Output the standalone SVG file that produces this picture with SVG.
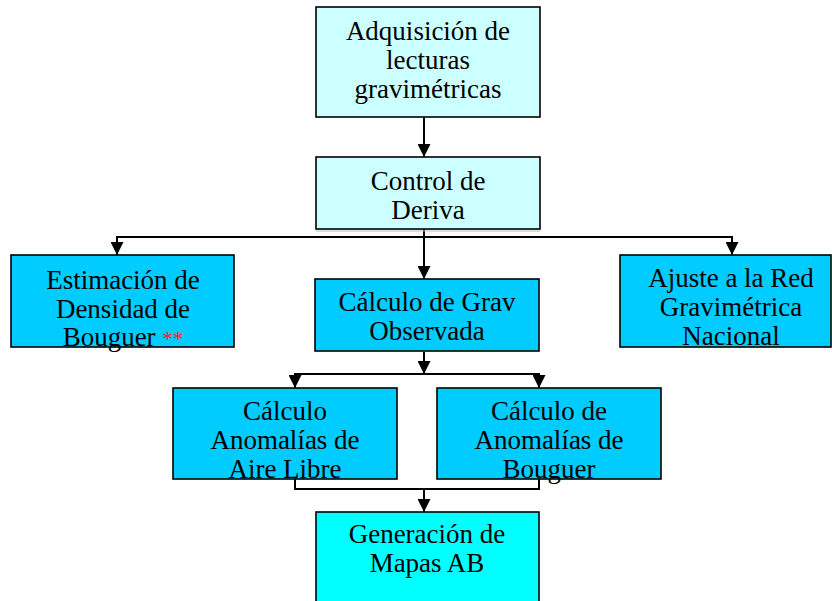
<svg xmlns="http://www.w3.org/2000/svg" width="832" height="601" viewBox="0 0 832 601">
<style>
.box{stroke:#000;stroke-width:1.6}
.lc{fill:#CCFFFF}
.bl{fill:#00CCFF}
.cy{fill:#00FFFF}
text{font-family:"Liberation Serif","Times New Roman",serif;font-size:27px;fill:#000;text-anchor:middle}
.c{fill:none;stroke:#000;stroke-width:2}
</style>
<defs>
<marker id="ah" markerWidth="13" markerHeight="13" viewBox="0 0 13 13" refX="13" refY="6.5" orient="auto" markerUnits="userSpaceOnUse">
<path d="M0,0 L13,6.5 L0,13 Z" fill="#000"/>
</marker>
</defs>
<rect width="832" height="601" fill="#fff"/>
<g id="connectors">
<line class="c" x1="424" y1="117" x2="424" y2="157" marker-end="url(#ah)"/>
<line class="c" x1="424" y1="229" x2="424" y2="279" marker-end="url(#ah)"/>
<line x1="316" y1="231" x2="540" y2="231" stroke="#bbb" stroke-width="1"/>
<polyline class="c" points="117,255 117,237 732,237 732,255"/>
<line class="c" x1="117" y1="237" x2="117" y2="255" marker-end="url(#ah)"/>
<line class="c" x1="732" y1="237" x2="732" y2="255" marker-end="url(#ah)"/>
<line class="c" x1="424" y1="352" x2="424" y2="374" marker-end="url(#ah)"/>
<polyline class="c" points="295,388 295,374 539,374 539,388"/>
<line class="c" x1="295" y1="374" x2="295" y2="388" marker-end="url(#ah)"/>
<line class="c" x1="539" y1="374" x2="539" y2="388" marker-end="url(#ah)"/>
<polyline class="c" points="295,479 295,489 539,489 539,479"/>
<line class="c" x1="424" y1="489" x2="424" y2="512" marker-end="url(#ah)"/>
</g>
<g id="adquisicion">
<rect class="box lc" x="316" y="7" width="224" height="110"/>
<text x="428" y="40">Adquisición de</text>
<text x="428" y="69">lecturas</text>
<text x="428" y="98">gravimétricas</text>
</g>
<g id="control">
<rect class="box lc" x="316" y="157" width="224" height="72"/>
<text x="428" y="190">Control de</text>
<text x="428" y="219">Deriva</text>
</g>
<g id="estimacion">
<rect class="box bl" x="11" y="255" width="223" height="92"/>
<text x="123" y="289">Estimación de</text>
<text x="123" y="318">Densidad de</text>
<text x="123" y="346">Bouguer <tspan fill="#FF2020" font-size="21">**</tspan></text>
</g>
<g id="grav">
<rect class="box bl" x="315" y="279" width="224" height="72"/>
<text x="427" y="311">Cálculo de Grav</text>
<text x="427" y="340">Observada</text>
</g>
<g id="ajuste">
<rect class="box bl" x="620" y="255" width="211" height="92"/>
<text x="731" y="287">Ajuste a la Red</text>
<text x="731" y="316">Gravimétrica</text>
<text x="731" y="345">Nacional</text>
</g>
<g id="airelibre">
<rect class="box bl" x="173" y="388" width="224" height="91"/>
<text x="285" y="420">Cálculo</text>
<text x="285" y="449">Anomalías de</text>
<text x="285" y="478">Aire Libre</text>
</g>
<g id="bouguer">
<rect class="box bl" x="437" y="388" width="224" height="91"/>
<text x="549" y="420">Cálculo de</text>
<text x="549" y="449">Anomalías de</text>
<text x="549" y="478">Bouguer</text>
</g>
<g id="generacion">
<rect class="box cy" x="316" y="512" width="223" height="100"/>
<text x="427" y="543">Generación de</text>
<text x="427" y="572">Mapas AB</text>
</g>
</svg>
